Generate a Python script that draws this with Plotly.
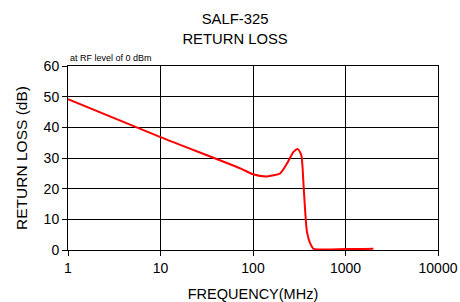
import plotly.graph_objects as go

freq_mhz = [1, 10, 73, 100, 141, 197, 233, 274, 306, 333, 352, 367, 383, 416, 452, 1000, 2000]
return_loss_db = [49.2, 36.8, 26.6, 24.7, 24.0, 25.0, 28.2, 32.0, 32.9, 30.9, 21.1, 12.4, 5.9, 2.1, 0.4, 0.3, 0.4]

x_tickvals = [1, 10, 100, 1000, 10000]
x_ticktext = ["1", "10", "100", "1000", "10000"]
y_tickvals = [0, 10, 20, 30, 40, 50, 60]

FONT = "Liberation Sans, Arial, sans-serif"

fig = go.Figure()
fig.add_trace(go.Scatter(
    x=freq_mhz, y=return_loss_db, mode="lines",
    line=dict(color="#ff0000", width=2, shape="spline", smoothing=0.6),
    showlegend=False, hoverinfo="skip",
))

fig.update_layout(
    width=460, height=302,
    margin=dict(l=68, r=22, t=66, b=52, autoexpand=False),
    paper_bgcolor="white", plot_bgcolor="white",
    font=dict(family=FONT, size=14, color="#000"),
    title=dict(text="SALF-325<br>RETURN LOSS", x=0.511, xanchor="center",
               yref="container", y=0.919, yanchor="top",
               font=dict(family=FONT, size=14.8, color="#000")),
    annotations=[dict(text="at RF level of 0 dBm", xref="paper", yref="paper",
                      x=0, y=1.0, xanchor="left", yanchor="bottom", yshift=1, showarrow=False,
                      font=dict(family=FONT, size=9, color="#000"))],
)
fig.update_xaxes(
    type="log", range=[0, 4], tickvals=x_tickvals, ticktext=x_ticktext,
    showgrid=True, gridcolor="#000", gridwidth=1,
    showline=True, linecolor="#000", linewidth=1, mirror=True,
    ticks="outside", ticklen=5, tickcolor="#000",
    tickfont=dict(family=FONT, size=14, color="#000"),
    title=dict(text="FREQUENCY(MHz)", font=dict(family=FONT, size=14.5, color="#000"), standoff=14),
    zeroline=False, automargin=False,
)
fig.update_yaxes(
    range=[0, 60], tickvals=y_tickvals,
    showgrid=True, gridcolor="#000", gridwidth=1,
    showline=True, linecolor="#000", linewidth=1, mirror=True,
    ticks="outside", ticklen=5, tickcolor="#000",
    tickfont=dict(family=FONT, size=14, color="#000"),
    title=dict(text="RETURN LOSS (dB)", font=dict(family=FONT, size=15.5, color="#000"), standoff=12),
    zeroline=False, automargin=False,
)

fig.write_html("out.html", config={"displayModeBar": False},
               post_script="document.body.style.margin='0';")
